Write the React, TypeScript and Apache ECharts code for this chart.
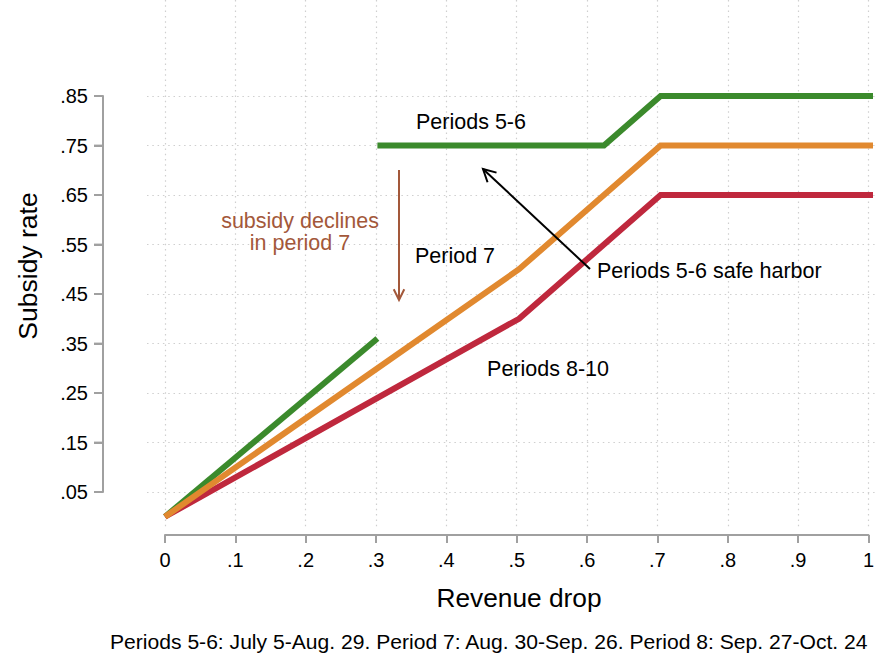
import React, { useEffect, useRef } from "react";
import * as echarts from "echarts";

// Subsidy schedules: [revenue drop, subsidy rate]
const periods56Lower: [number, number][] = [
  [0, 0],
  [0.3, 0.36],
];
const periods56SafeHarbor: [number, number][] = [
  [0.3, 0.75],
  [0.62, 0.75],
  [0.7, 0.85],
  [1, 0.85],
];
const period7: [number, number][] = [
  [0, 0],
  [0.5, 0.5],
  [0.7, 0.75],
  [1, 0.75],
];
const periods810: [number, number][] = [
  [0, 0],
  [0.5, 0.4],
  [0.7, 0.65],
  [1, 0.65],
];
const rateTicks = [0.05, 0.15, 0.25, 0.35, 0.45, 0.55, 0.65, 0.75, 0.85];

const GREEN = "#3b8a2c";
const ORANGE = "#e1892f";
const RED = "#bf283d";
const BROWN = "#a3583a";
const AXIS = "#a0a0a0";
const GRIDLINE = "#cfcfcf";
const FONT = '"Liberation Sans", Arial, Helvetica, sans-serif';

const fmtX = (v: number) =>
  v === 0 ? "0" : v === 1 ? "1" : v.toFixed(1).replace(/^0/, "");
const fmtY = (v: number) => v.toFixed(2).replace(/^0/, "");

function arrowHead(
  tail: [number, number],
  head: [number, number],
  len: number,
  angleDeg: number
): number[][] {
  const dx = tail[0] - head[0];
  const dy = tail[1] - head[1];
  const d = Math.hypot(dx, dy);
  const ux = dx / d;
  const uy = dy / d;
  const a = (angleDeg * Math.PI) / 180;
  const rot = (s: number) => [
    head[0] + len * (ux * Math.cos(s * a) - uy * Math.sin(s * a)),
    head[1] + len * (ux * Math.sin(s * a) + uy * Math.cos(s * a)),
  ];
  return [rot(1), [head[0], head[1]], rot(-1)];
}

export default function App() {
  const ref = useRef<HTMLDivElement>(null);

  useEffect(() => {
    document.body.style.margin = "0";
    if (!ref.current) return;
    const chart = echarts.init(ref.current, null, { renderer: "svg" });

    const lineSeries = (name: string, data: [number, number][], color: string) => ({
      type: "line",
      name,
      data,
      xAxisIndex: 1,
      yAxisIndex: 1,
      showSymbol: false,
      symbol: "none",
      clip: false,
      lineStyle: { color, width: 6, cap: "butt", join: "miter" },
      z: 5,
    });

    const blackTail: [number, number] = [590, 269];
    const blackHead: [number, number] = [483, 169];
    const brownTail: [number, number] = [399, 170];
    const brownHead: [number, number] = [399, 300];

    const text = (
      str: string,
      x: number,
      y: number,
      opts: { fill?: string; size?: number; align?: string; rotation?: number } = {}
    ) => ({
      type: "text",
      x,
      y,
      rotation: opts.rotation ?? 0,
      z: 20,
      style: {
        text: str,
        fill: opts.fill ?? "#000",
        fontSize: opts.size ?? 21.5,
        fontFamily: FONT,
        align: opts.align ?? "center",
        verticalAlign: "middle",
      },
    });

    const dotted = { color: GRIDLINE, width: 1.2, type: [1.5, 3.8] };

    chart.setOption({
      animation: false,
      grid: [
        // subsidy-rate axis
        { left: 103, width: 1, top: 96, bottom: 166 },
        // data region
        { left: 165, right: 4, top: 96, bottom: 166 },
        // vertical guide lines and revenue-drop axis
        { left: 165, right: 4, top: 0, bottom: 130 },
        // horizontal guide lines
        { left: 147, right: 0, top: 96, bottom: 166 },
      ],
      xAxis: [
        { gridIndex: 0, type: "value", min: 0, max: 1, show: false },
        { gridIndex: 1, type: "value", min: 0, max: 1, show: false },
        {
          gridIndex: 2,
          type: "value",
          min: 0,
          max: 1,
          interval: 0.1,
          offset: 7,
          axisLine: { show: true, onZero: false, lineStyle: { color: AXIS, width: 2 } },
          axisTick: { show: true, length: 8, lineStyle: { color: AXIS, width: 2 } },
          axisLabel: {
            formatter: fmtX,
            color: "#000",
            fontSize: 20,
            fontFamily: FONT,
            margin: 15,
          },
          splitLine: { show: true, lineStyle: dotted },
        },
        { gridIndex: 3, type: "value", min: 0, max: 1, show: false },
      ],
      yAxis: [
        {
          gridIndex: 0,
          type: "value",
          min: 0.05,
          max: 0.85,
          interval: 0.1,
          axisLine: { show: true, onZero: false, lineStyle: { color: AXIS, width: 2 } },
          axisTick: { show: true, length: 9, lineStyle: { color: AXIS, width: 2 } },
          axisLabel: {
            formatter: fmtY,
            color: "#000",
            fontSize: 20,
            fontFamily: FONT,
            margin: 15,
          },
          splitLine: { show: false },
        },
        { gridIndex: 1, type: "value", min: 0.05, max: 0.85, show: false },
        { gridIndex: 2, type: "value", min: 0, max: 1, show: false },
        {
          gridIndex: 3,
          type: "value",
          min: 0.05,
          max: 0.85,
          interval: 0.1,
          axisLine: { show: false },
          axisTick: { show: false },
          axisLabel: { show: false },
          splitLine: { show: true, lineStyle: dotted },
        },
      ],
      series: [
        // subsidy-rate axis spine and ticks, drawn through the axis scale
        {
          type: "line",
          name: "rate-axis",
          xAxisIndex: 0,
          yAxisIndex: 0,
          data: [
            [0, rateTicks[0]],
            [0, rateTicks[rateTicks.length - 1]],
          ],
          showSymbol: false,
          symbol: "none",
          clip: false,
          silent: true,
          lineStyle: { color: AXIS, width: 2 },
          z: 3,
        },
        {
          type: "scatter",
          name: "rate-ticks",
          xAxisIndex: 0,
          yAxisIndex: 0,
          data: rateTicks.map((v) => [0, v]),
          symbol: "rect",
          symbolSize: [9, 2],
          symbolOffset: [-4.5, 0],
          clip: false,
          silent: true,
          itemStyle: { color: AXIS },
          z: 3,
        },
        lineSeries("Periods 5-6", periods56Lower, GREEN),
        lineSeries("Periods 5-6 safe harbor", periods56SafeHarbor, GREEN),
        lineSeries("Periods 8-10", periods810, RED),
        lineSeries("Period 7", period7, ORANGE),
      ],
      graphic: [
        text("Subsidy rate", 28, 266, { size: 26.5, rotation: Math.PI / 2 }),
        text("Revenue drop", 519, 598, { size: 26.3 }),
        text(
          "Periods 5-6: July 5-Aug. 29. Period 7: Aug. 30-Sep. 26. Period 8: Sep. 27-Oct. 24",
          110,
          641,
          { align: "left", size: 21.1 }
        ),
        text("Periods 5-6", 471, 122),
        text("Period 7", 455, 256),
        text("Periods 8-10", 548, 369),
        text("Periods 5-6 safe harbor", 597, 271, { align: "left" }),
        text("subsidy declines", 300, 221, { fill: BROWN }),
        text("in period 7", 300, 243, { fill: BROWN }),
        {
          type: "polyline",
          z: 15,
          shape: { points: [blackTail, blackHead] },
          style: { stroke: "#000", lineWidth: 2, fill: "none" },
        },
        {
          type: "polyline",
          z: 15,
          shape: { points: arrowHead(blackTail, blackHead, 14, 28) },
          style: { stroke: "#000", lineWidth: 2, fill: "none" },
        },
        {
          type: "polyline",
          z: 15,
          shape: { points: [brownTail, brownHead] },
          style: { stroke: BROWN, lineWidth: 2, fill: "none" },
        },
        {
          type: "polyline",
          z: 15,
          shape: { points: arrowHead(brownTail, brownHead, 12, 26) },
          style: { stroke: BROWN, lineWidth: 2, fill: "none" },
        },
      ],
    });

    return () => chart.dispose();
  }, []);

  return <div ref={ref} style={{ width: 877, height: 658 }} />;
}
